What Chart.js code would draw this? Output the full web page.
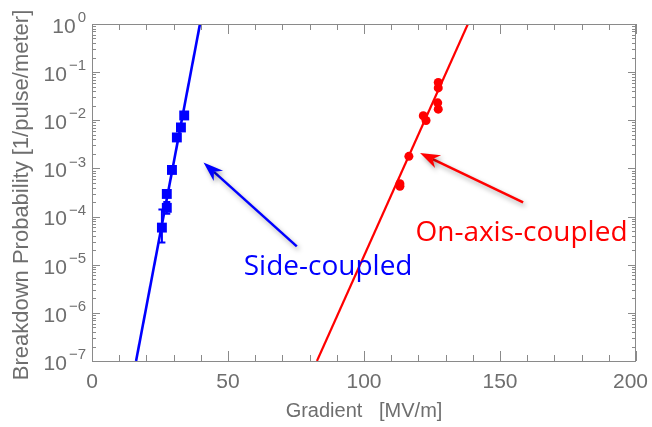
<!DOCTYPE html>
<html><head><meta charset="utf-8">
<script src="https://cdn.jsdelivr.net/npm/chart.js@4.4.1/dist/chart.umd.min.js"></script>
<style>html,body{margin:0;padding:0;background:#fff}canvas{display:block}</style>
</head><body>
<canvas id="c" width="652" height="427"></canvas>
<script>
// ---- data ----
const xTickValues = [0, 50, 100, 150, 200];
const yTickExponents = [0, -1, -2, -3, -4, -5, -6, -7];

const sideX = [25.7, 27.5, 27.5, 29.4, 31.2, 32.7, 33.9];
const sideY = [5.9e-5, 1.52e-4, 2.95e-4, 9.3e-4, 4.4e-3, 7.1e-3, 1.26e-2];
const sideErrLow  = [2.9e-5, 1.15e-4, null, null, null, null, null];
const sideErrHigh = [1.4e-4, 2.0e-4, null, null, null, null, null];

const onAxisX = [113.2, 113.2, 116.5, 121.8, 122.8, 127.1, 127.3, 127.3, 127.3];
const onAxisY = [4.26e-4, 4.8e-4, 1.78e-3, 1.24e-2, 9.9e-3, 2.3e-2, 1.7e-2, 4.7e-2, 6.1e-2];

const sideFitX = [16.2, 39.7];
const sideFitY = [1e-7, 1];
const onAxisFitX = [82.7, 138.2];
const onAxisFitY = [1e-7, 1];

// annotations: [tailX, tailY, tipX, tipY]
const sideArrow = [75.3, 2.4e-5, 41.0, 1.33e-3];
const onAxisArrow = [158.5, 1.97e-4, 120.6, 2.09e-3];
const sideLabel = {text: 'Side-coupled', x: 86.8, y: 6.0e-6};
const onAxisLabel = {text: 'On-axis-coupled', x: 157.9, y: 3.05e-5};

const xTitle = 'Gradient   [MV/m]';
const yTitle = 'Breakdown Probability [1/pulse/meter]';

const BLUE = '#0000ff', RED = '#ff0000', GRAY = '#6e6e6e', FRAME = '#8a8a8a';

const pts = (xs, ys) => xs.map((x, i) => ({x, y: ys[i]}));

const decor = {
  id: 'decor',
  beforeDatasetsDraw(chart) {
    const ctx = chart.ctx, xs = chart.scales.x, ys = chart.scales.y;
    ctx.save();
    ctx.strokeStyle = BLUE; ctx.lineWidth = 2;
    sideX.forEach((x, i) => {
      if (sideErrLow[i] == null) return;
      const px = xs.getPixelForValue(x);
      const y1 = ys.getPixelForValue(sideErrLow[i]), y2 = ys.getPixelForValue(sideErrHigh[i]);
      ctx.beginPath();
      ctx.moveTo(px, y1); ctx.lineTo(px, y2);
      ctx.moveTo(px - 3.5, y1); ctx.lineTo(px + 3.5, y1);
      ctx.moveTo(px - 3.5, y2); ctx.lineTo(px + 3.5, y2);
      ctx.stroke();
    });
    ctx.restore();
  },
  afterDraw(chart) {
    const ctx = chart.ctx, xs = chart.scales.x, ys = chart.scales.y, a = chart.chartArea;
    ctx.save();
    // frame
    ctx.strokeStyle = FRAME; ctx.lineWidth = 1;
    ctx.strokeRect(Math.round(a.left) + 0.5, Math.round(a.top) + 0.5, Math.round(a.right - a.left) - 1, Math.round(a.bottom - a.top));
    // x ticks (inward), top and bottom
    ctx.beginPath();
    for (let v = 0; v <= 200; v += 10) {
      const px = Math.round(xs.getPixelForValue(v)) + 0.5;
      const len = (v % 50 === 0) ? 10 : 6;
      ctx.moveTo(px, a.bottom); ctx.lineTo(px, a.bottom - len);
      ctx.moveTo(px, a.top); ctx.lineTo(px, a.top + len);
    }
    // y ticks (inward), left and right
    for (let e = -7; e <= 0; e++) {
      for (let m = 1; m <= 9; m++) {
        const val = m * Math.pow(10, e);
        if (val > 1.0000001) break;
        const py = Math.round(ys.getPixelForValue(val)) + 0.5;
        const len = (m === 1) ? 8 : 4;
        ctx.moveTo(a.left, py); ctx.lineTo(a.left + len, py);
        ctx.moveTo(a.right, py); ctx.lineTo(a.right - len, py);
      }
    }
    ctx.stroke();

    // tick labels
    ctx.fillStyle = GRAY;
    ctx.font = '21px "Liberation Sans", Arial, sans-serif';
    ctx.textAlign = 'center'; ctx.textBaseline = 'middle';
    xTickValues.forEach(v => {
      const s = String(v);
      let px = xs.getPixelForValue(v);
      const hw = ctx.measureText(s).width / 2;
      px = Math.max(px, 4 + hw);
      px = Math.min(px, chart.width - 4 - hw);
      ctx.fillText(s, px, a.bottom + 21);
    });
    yTickExponents.forEach(e => {
      const py = ys.getPixelForValue(Math.pow(10, e));
      const expStr = e === 0 ? '0' : '\u2212' + String(-e);
      ctx.font = '15px "Liberation Sans", Arial, sans-serif';
      ctx.textAlign = 'right'; ctx.textBaseline = 'middle';
      const right = a.left - 6;
      ctx.fillText(expStr, right, py - 6);
      const w = ctx.measureText(expStr).width;
      ctx.font = '21px "Liberation Sans", Arial, sans-serif';
      ctx.fillText('10', right - w - 2, py + 3);
    });
    // axis titles
    ctx.font = '20px "Liberation Sans", Arial, sans-serif';
    ctx.textAlign = 'center'; ctx.textBaseline = 'middle';
    ctx.fillText(xTitle, (a.left + a.right) / 2, a.bottom + 50);
    ctx.save();
    ctx.font = '22px "Liberation Sans", Arial, sans-serif';
    ctx.translate(22, 195);
    ctx.rotate(-Math.PI / 2);
    ctx.fillText(yTitle, 0, 0);
    ctx.restore();

    // arrows with soft shadow
    const arrow = (arr, color) => {
      const x1 = xs.getPixelForValue(arr[0]), y1 = ys.getPixelForValue(arr[1]);
      const x2 = xs.getPixelForValue(arr[2]), y2 = ys.getPixelForValue(arr[3]);
      const ang = Math.atan2(y2 - y1, x2 - x1);
      const L = 20, W = 7, notch = 14;
      ctx.save();
      ctx.shadowColor = 'rgba(0,0,0,0.35)';
      ctx.shadowBlur = 5; ctx.shadowOffsetX = 2; ctx.shadowOffsetY = 3;
      ctx.strokeStyle = color; ctx.fillStyle = color; ctx.lineWidth = 2.5;
      ctx.beginPath();
      ctx.moveTo(x1, y1);
      ctx.lineTo(x2 - notch * Math.cos(ang), y2 - notch * Math.sin(ang));
      ctx.stroke();
      ctx.translate(x2, y2); ctx.rotate(ang);
      ctx.beginPath();
      ctx.moveTo(0, 0);
      ctx.lineTo(-L, -W);
      ctx.lineTo(-notch, 0);
      ctx.lineTo(-L, W);
      ctx.closePath();
      ctx.fill();
      ctx.restore();
    };
    arrow(sideArrow, BLUE);
    arrow(onAxisArrow, RED);

    // labels
    ctx.font = '28px "Open Sans", sans-serif';
    ctx.textAlign = 'center'; ctx.textBaseline = 'alphabetic';
    ctx.fillStyle = BLUE;
    ctx.fillText(sideLabel.text, xs.getPixelForValue(sideLabel.x), ys.getPixelForValue(sideLabel.y));
    ctx.fillStyle = RED;
    ctx.fillText(onAxisLabel.text, xs.getPixelForValue(onAxisLabel.x), ys.getPixelForValue(onAxisLabel.y));
    ctx.restore();
  }
};

new Chart(document.getElementById('c'), {
  type: 'scatter',
  data: {
    datasets: [
      {data: pts(sideFitX, sideFitY), showLine: true, borderColor: BLUE, borderWidth: 2.6, pointRadius: 0},
      {data: pts(onAxisFitX, onAxisFitY), showLine: true, borderColor: RED, borderWidth: 2.2, pointRadius: 0},
      {data: pts(sideX, sideY), pointStyle: 'rect', pointRadius: 7, backgroundColor: BLUE, borderColor: BLUE, borderWidth: 0},
      {data: pts(onAxisX, onAxisY), pointStyle: 'circle', pointRadius: 4.5, backgroundColor: RED, borderColor: RED, borderWidth: 0}
    ]
  },
  options: {
    responsive: false, animation: false, devicePixelRatio: 1,
    layout: {padding: {left: 0, right: 16, top: 24, bottom: 0}},
    plugins: {legend: {display: false}, tooltip: {enabled: false}},
    scales: {
      x: {type: 'linear', min: 0, max: 200, grid: {display: false}, border: {display: false},
          ticks: {display: false}, afterFit: s => { s.height = 66; }},
      y: {type: 'logarithmic', min: 1e-7, max: 1, grid: {display: false}, border: {display: false},
          ticks: {display: false}, afterFit: s => { s.width = 92; }}
    }
  },
  plugins: [decor]
});
</script>
</body></html>
